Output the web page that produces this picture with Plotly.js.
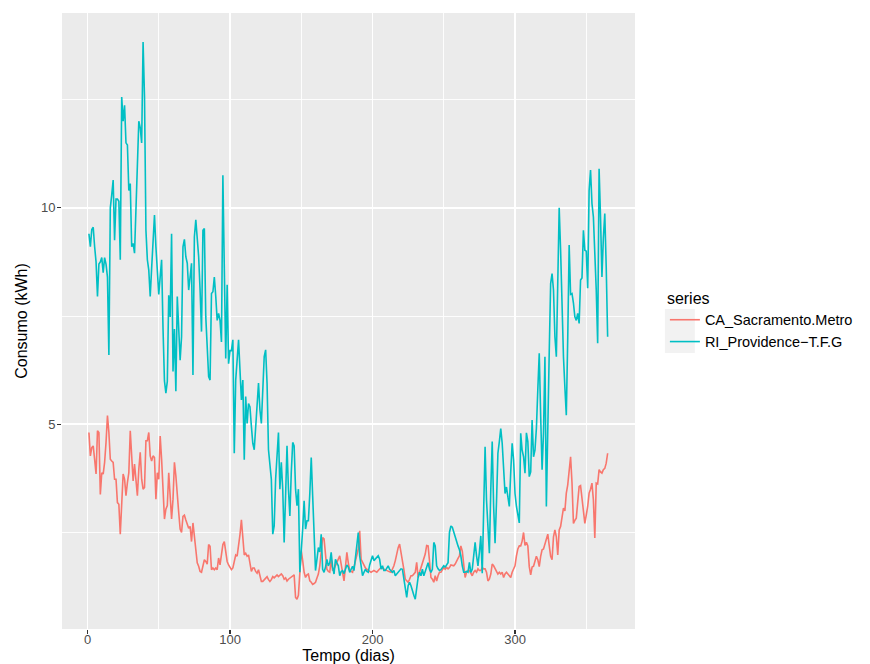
<!DOCTYPE html>
<html>
<head>
<meta charset="utf-8">
<script src="https://cdn.plot.ly/plotly-3.0.1.min.js"></script>
<style>
  html, body { margin: 0; padding: 0; background: #ffffff; }
  #chart { width: 870px; height: 664px; }
</style>
</head>
<body>
<div id="chart"></div>
<script>
// ---- data (daily consumption, kWh, days 1..365) ----
const seriesNames = ["CA_Sacramento.Metro", "RI_Providence\u2212T.F.G"];
const seriesColors = ["#F8766D", "#00BFC4"];

const caSacramento = [
  4.81,4.27,4.46,4.5,4.19,3.85,4.85,4.81,3.38,3.88,3.85,4.12,4.58,5.2,4.81,
  4.19,4.15,4.12,3.73,3.73,3.19,3.15,2.46,3.35,3.85,3.73,3.35,3.65,3.88,4.85,
  4.27,3.69,4.08,3.65,3.35,3.96,4.35,3.73,3.5,3.54,4.62,4.62,4.81,4.27,4.15,
  4.27,4.23,3.27,3.88,3.73,4.73,4.19,3.35,2.81,3.04,3.12,3.88,3.42,2.81,3.27,
  4.12,3.81,3.27,2.96,2.58,2.5,2.87,2.9,2.79,2.7,2.6,2.64,2.29,2.72,2.41,
  1.95,1.8,1.72,1.6,1.58,1.77,1.87,1.83,1.77,2.22,2.18,1.64,1.68,1.64,1.68,
  1.64,1.91,1.75,2.02,2.22,2.29,2.02,1.83,1.75,1.68,1.64,1.68,1.83,1.98,1.95,
  2.17,2.45,2.79,2.33,1.98,2.02,1.95,1.98,1.75,1.6,1.68,1.68,1.6,1.56,1.64,
  1.48,1.37,1.37,1.41,1.45,1.48,1.41,1.37,1.41,1.48,1.45,1.5,1.52,1.48,1.5,
  1.54,1.5,1.42,1.45,1.38,1.42,1.44,1.46,1.5,1.52,1.0,0.96,1.05,1.73,2.08,
  1.85,1.58,1.46,1.52,1.54,1.38,1.35,1.3,1.32,1.35,1.45,1.54,1.73,2.1,2.38,
  2.35,1.88,1.65,1.6,1.58,1.88,1.62,1.66,1.73,1.8,1.85,1.96,1.77,1.54,1.38,
  1.7,2.04,1.8,1.62,1.6,1.58,1.7,1.88,1.98,2.12,2.54,1.88,1.8,1.73,1.68,
  1.65,1.62,1.6,1.58,1.6,1.62,1.6,1.58,1.62,1.66,1.69,1.67,1.65,1.63,1.62,
  1.6,1.59,1.58,1.65,1.73,1.85,2.04,2.15,2.23,2.05,1.88,1.65,1.42,1.38,1.35,
  1.42,1.5,1.5,1.55,1.58,1.81,1.46,1.58,1.7,1.77,1.88,2.0,2.2,2.19,1.84,
  1.46,1.42,1.35,1.5,1.38,1.5,1.58,1.58,1.65,1.69,1.65,1.69,1.66,1.69,1.75,
  1.73,1.73,1.77,1.85,1.9,1.96,2.19,2.07,1.8,1.46,1.58,1.62,1.62,1.55,1.5,
  1.58,1.62,1.58,1.66,1.62,1.62,1.69,1.66,1.66,1.58,1.38,1.42,1.54,1.77,1.73,
  1.66,1.62,1.54,1.58,1.54,1.58,1.46,1.54,1.58,1.54,1.5,1.46,1.58,1.66,1.73,
  1.96,2.12,2.19,2.19,2.3,2.5,2.2,2.27,2.19,1.71,1.52,1.7,1.72,1.85,1.95,
  1.87,1.71,1.95,2.1,2.12,2.25,2.33,2.46,2.2,1.95,1.87,2.4,2.56,2.4,1.98,
  2.56,2.64,2.85,3.06,3.0,3.41,3.6,3.95,4.25,3.64,2.71,2.78,2.83,3.2,3.56,
  3.58,3.33,3.0,2.71,2.9,3.1,3.41,3.5,3.64,3.25,2.37,3.64,3.62,3.95,3.9,
  3.87,3.95,3.98,4.1,4.33
];

const riProvidence = [
  9.4,9.1,9.5,9.55,9.1,8.75,7.95,8.7,8.75,8.85,8.5,8.85,8.7,8.4,6.6,
  10.0,10.3,10.64,9.25,10.2,10.2,10.15,8.8,12.56,12.0,12.37,11.5,11.45,10.4,10.56,
  9.1,9.18,8.95,10.0,11.0,12.0,11.85,11.5,13.83,12.56,9.48,8.8,8.56,7.95,8.6,
  9.1,9.83,9.1,8.5,8.0,8.4,8.8,7.2,6.0,5.72,5.99,7.98,7.48,9.4,6.22,
  7.2,5.76,7.95,7.1,6.48,7.02,9.1,9.27,8.87,8.72,8.1,8.4,8.72,6.14,9.33,
  9.72,9.25,8.87,8.1,7.14,9.48,9.52,7.48,6.56,6.1,6.02,8.02,8.06,8.4,7.95,
  7.4,7.56,7.4,6.9,10.75,8.6,6.52,8.22,6.4,6.7,6.7,6.95,4.33,6.02,6.56,
  6.95,6.25,5.56,6.02,4.18,5.64,5.02,5.48,5.4,4.95,4.56,4.41,5.02,5.56,5.95,
  5.33,5.02,5.79,6.56,6.72,5.95,4.41,3.95,3.73,2.46,2.65,3.73,4.2,4.81,3.5,
  4.12,3.5,2.27,3.35,4.5,3.5,2.88,3.9,4.58,4.5,3.5,3.12,3.5,1.58,2.0,
  2.58,3.23,2.58,2.77,2.77,3.4,4.23,3.35,2.42,1.62,1.88,2.15,2.05,2.46,1.65,
  1.58,1.7,1.88,1.73,1.8,2.04,1.7,1.54,1.88,1.8,1.73,1.5,1.6,1.62,1.55,
  1.65,1.75,1.7,1.58,1.65,1.72,1.62,1.9,2.27,2.5,1.96,1.73,1.5,1.58,1.65,
  1.6,1.58,1.75,1.88,1.96,1.85,1.88,1.92,1.96,1.88,1.65,1.73,1.62,1.62,1.68,
  1.73,1.65,1.62,1.58,1.62,1.5,1.54,1.58,1.62,1.66,1.65,1.42,1.19,1.0,1.27,
  1.35,1.27,1.12,1.05,0.96,1.27,1.46,1.58,1.5,1.65,1.5,1.6,1.73,1.8,1.65,
  1.58,1.65,2.27,2.19,1.73,1.66,1.62,1.64,1.7,1.73,1.7,1.77,1.8,2.5,2.65,
  2.62,2.5,2.38,2.3,2.19,2.1,1.96,1.73,1.58,1.58,1.6,1.58,1.81,1.58,1.65,
  1.96,2.27,1.96,1.73,2.04,2.42,1.56,3.3,4.48,3.25,2.5,2.02,3.5,4.6,3.1,
  2.25,3.2,4.33,4.6,4.9,4.56,3.95,3.4,3.55,3.25,3.1,3.9,4.56,4.18,3.4,
  3.1,2.85,2.72,4.79,4.4,4.25,3.87,4.8,4.6,3.79,3.9,5.1,4.25,4.4,4.9,
  5.8,6.64,5.2,3.95,4.8,6.56,3.1,5.3,6.64,8.25,8.48,8.1,7.02,6.56,8.1,
  10.0,9.02,7.5,6.56,5.85,5.21,7.0,9.14,8.0,8.02,7.8,7.48,7.4,7.56,7.33,
  8.33,8.38,9.48,9.02,9.0,8.14,10.4,10.87,10.1,9.79,9.0,8.1,6.87,10.9,9.79,
  8.4,9.3,9.87,8.64,7.02
];

const days = caSacramento.map((_, i) => i + 1);

const xTickVals = [0, 100, 200, 300];
const xTickText = ["0", "100", "200", "300"];
const xMinorVals = [50, 150, 250, 350];
const yTickVals = [5, 10];
const yTickText = ["5", "10"];
const yMinorVals = [2.5, 7.5, 12.5];

// ---- layout helpers ----
const W = 870, H = 664;
const M = { l: 62, r: 233, t: 13, b: 35 };
const PW = W - M.l - M.r, PH = H - M.t - M.b;
const px2x = p => (p - M.l) / PW;
const py2y = p => 1 - (p - M.t) / PH;

const FONT = "Liberation Sans, Arial, Helvetica, sans-serif";

const traces = [
  { x: days, y: caSacramento, name: seriesNames[0], color: seriesColors[0] },
  { x: days, y: riProvidence, name: seriesNames[1], color: seriesColors[1] }
].map((s, i) => ({
  type: "scatter",
  mode: "lines",
  x: s.x,
  y: s.y,
  name: s.name,
  legendgroup: "g" + i,
  line: { color: s.color, width: 1.6 },
  hoverinfo: "x+y+name"
}));

// legend key backgrounds (ggplot grey95 key boxes)
const keyBoxes = [[309, 331], [331, 353]].map(([top, bot]) => ({
  type: "rect", xref: "paper", yref: "paper", layer: "below",
  x0: px2x(667), x1: px2x(697), y0: py2y(bot), y1: py2y(top),
  fillcolor: "#F2F2F2", line: { width: 0 }
}));

const minorCommon = { showgrid: true, gridcolor: "#FFFFFF", gridwidth: 0.9, ticks: "", ticklen: 0 };

const axisCommon = {
  showline: false,
  zeroline: false,
  automargin: false,
  ticks: "outside",
  ticklen: 4,
  tickwidth: 1.1,
  tickcolor: "#333333",
  showgrid: true,
  gridcolor: "#FFFFFF",
  gridwidth: 1.8,
  tickfont: { family: FONT, size: 13, color: "#4D4D4D" },
  fixedrange: true
};

const layout = {
  width: W,
  height: H,
  margin: M,
  paper_bgcolor: "#FFFFFF",
  plot_bgcolor: "#EBEBEB",
  font: { family: FONT, color: "#000000" },
  showlegend: true,
  xaxis: Object.assign({}, axisCommon, {
    range: [-17.9, 384.2],
    tickmode: "array",
    tickvals: xTickVals,
    ticktext: xTickText,
    ticklabelstandoff: -6,
    minor: Object.assign({ tickvals: xMinorVals }, minorCommon),
    title: { text: "Tempo (dias)", font: { family: FONT, size: 16, color: "#000000" }, standoff: 13 }
  }),
  yaxis: Object.assign({}, axisCommon, {
    range: [0.27, 14.5],
    tickmode: "array",
    tickvals: yTickVals,
    ticktext: yTickText,
    ticklabelstandoff: -1,
    minor: Object.assign({ tickvals: yMinorVals }, minorCommon),
    title: { text: "Consumo (kWh)", font: { family: FONT, size: 16, color: "#000000" }, standoff: 9 }
  }),
  legend: {
    x: px2x(667),
    xanchor: "left",
    y: py2y(283),
    yanchor: "top",
    bgcolor: "rgba(0,0,0,0)",
    borderwidth: 0,
    traceorder: "grouped",
    tracegroupgap: 0,
    font: { family: FONT, size: 14.5, color: "#000000" },
    title: { text: "series", font: { family: FONT, size: 16, color: "#000000" } }
  },
  shapes: keyBoxes
};

Plotly.newPlot("chart", traces, layout, { displayModeBar: false, staticPlot: true });
</script>
</body>
</html>
